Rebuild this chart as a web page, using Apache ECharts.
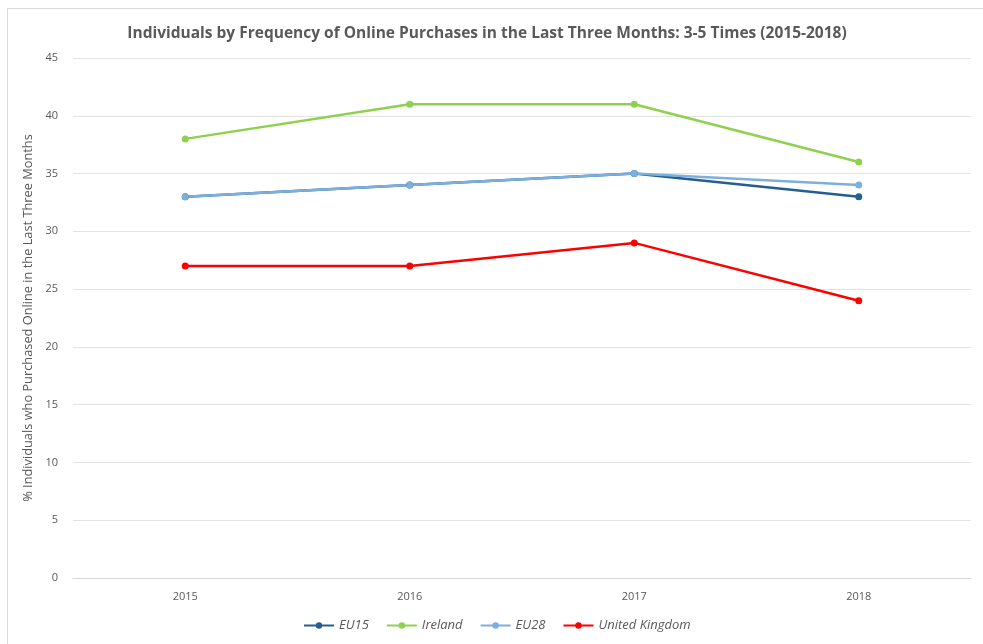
<!DOCTYPE html>
<html>
<head>
<meta charset="utf-8">
<script src="https://cdn.jsdelivr.net/npm/echarts@6/dist/echarts.min.js"></script>
<style>
  html, body { margin: 0; padding: 0; background: #fff; }
  #chart { width: 983px; height: 644px; }
</style>
</head>
<body>
<div id="chart"></div>
<script>
// Share of individuals buying online 3-5 times in the last three months
const years = ['2015', '2016', '2017', '2018'];
const eu15 = [33, 34, 35, 33];
const ireland = [38, 41, 41, 36];
const eu28 = [33, 34, 35, 34];
const unitedKingdom = [27, 27, 29, 24];
const yTicks = { min: 0, max: 45, interval: 5 };

const font = '"Open Sans", "Noto Sans", sans-serif';
const textGrey = '#595959';

function lineSeries(name, data, color) {
  return {
    name: name,
    type: 'line',
    data: data,
    symbol: 'circle',
    symbolSize: 7,
    lineStyle: { width: 2.5, color: color },
    itemStyle: { color: color },
    emphasis: { disabled: true }
  };
}

const chart = echarts.init(document.getElementById('chart'), null, { renderer: 'canvas' });
chart.setOption({
  animation: false,
  backgroundColor: '#ffffff',
  graphic: [{
    type: 'rect',
    shape: { x: 7.5, y: 8.5, width: 1000, height: 700 },
    style: { fill: 'none', stroke: '#d9d9d9', lineWidth: 1 },
    silent: true
  }],
  title: {
    text: 'Individuals by Frequency of Online Purchases in the Last Three Months: 3-5 Times (2015-2018)',
    left: 482,
    textAlign: 'center',
    top: 21,
    textStyle: { fontFamily: font, fontSize: 15.5, fontWeight: 'bold', color: textGrey }
  },
  legend: {
    bottom: 7,
    left: 298,
    itemWidth: 30,
    itemHeight: 8,
    itemGap: 17,
    textStyle: { fontFamily: font, fontSize: 13, fontStyle: 'italic', color: textGrey },
    data: ['EU15', 'Ireland', 'EU28', 'United Kingdom']
  },
  grid: { left: 73, right: 12, top: 58, bottom: 66, containLabel: false },
  xAxis: {
    type: 'category',
    data: years,
    boundaryGap: true,
    axisLine: { show: true, lineStyle: { color: '#d9d9d9' } },
    axisTick: { show: false },
    axisLabel: { fontFamily: font, fontSize: 11, color: textGrey, margin: 13 }
  },
  yAxis: {
    type: 'value',
    min: yTicks.min,
    max: yTicks.max,
    interval: yTicks.interval,
    name: '% Individuals who Purchased Online in the Last Three Months',
    nameLocation: 'middle',
    nameGap: 31,
    nameTextStyle: { fontFamily: font, fontSize: 12.8, color: textGrey },
    axisLine: { show: false },
    axisTick: { show: false },
    axisLabel: { fontFamily: font, fontSize: 11, color: textGrey, margin: 15 },
    splitLine: { lineStyle: { color: '#e3e3e3', width: 1 } }
  },
  series: [
    lineSeries('EU15', eu15, '#255e91'),
    lineSeries('Ireland', ireland, '#8fd14f'),
    lineSeries('EU28', eu28, '#7cafdd'),
    lineSeries('United Kingdom', unitedKingdom, '#ff0000')
  ]
});
</script>
</body>
</html>
